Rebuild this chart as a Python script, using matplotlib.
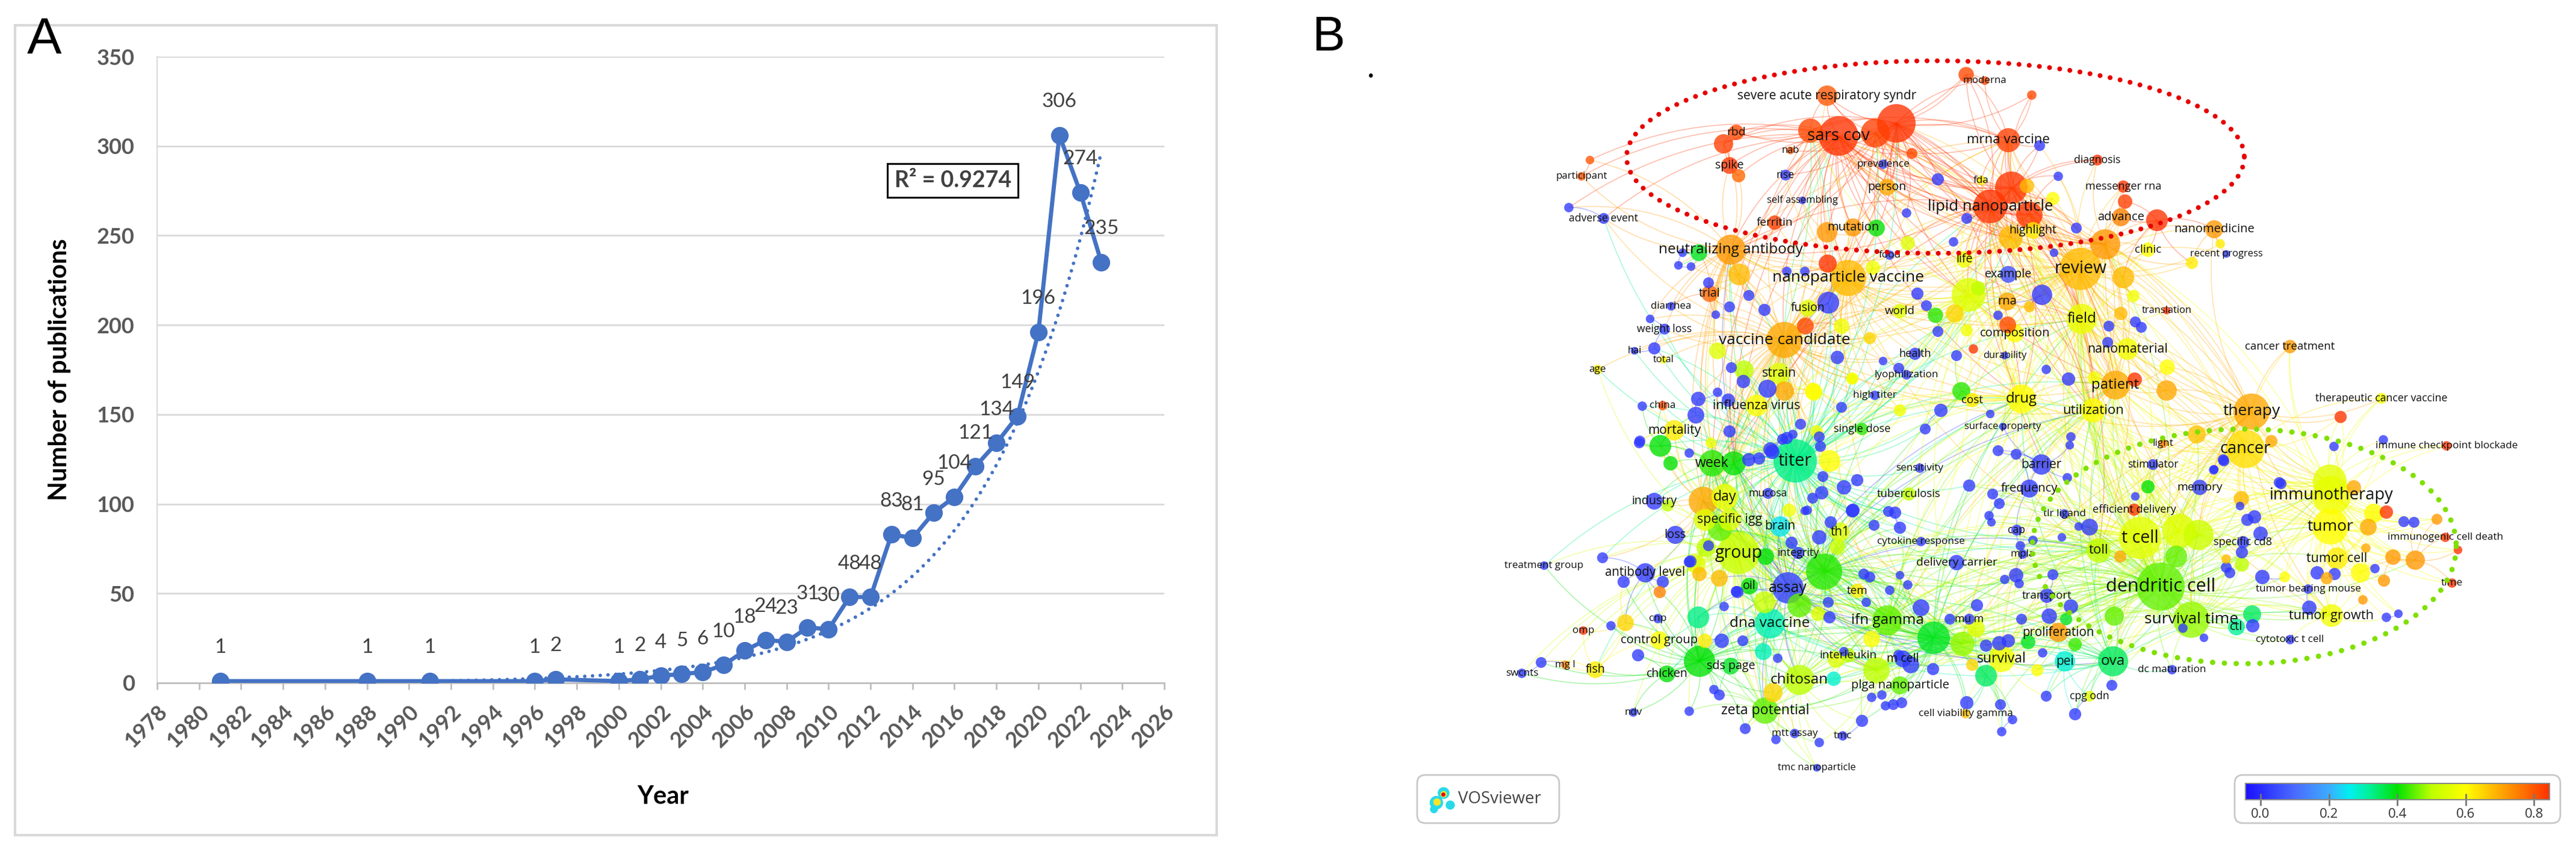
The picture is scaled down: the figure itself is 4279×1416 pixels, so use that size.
import numpy as np
import matplotlib
matplotlib.use("Agg")
import matplotlib.pyplot as plt
from matplotlib.colors import LinearSegmentedColormap, Normalize
from matplotlib.cm import ScalarMappable
from matplotlib.collections import LineCollection
from matplotlib.patches import Rectangle, FancyBboxPatch

# ---------------- panel A data ----------------
years = [1981, 1988, 1991, 1996, 1997, 2000, 2001, 2002, 2003, 2004, 2005, 2006,
         2007, 2008, 2009, 2010, 2011, 2012, 2013, 2014, 2015, 2016, 2017, 2018,
         2019, 2020, 2021, 2022, 2023]
pubs = [1, 1, 1, 1, 2, 1, 2, 4, 5, 6, 10, 18, 24, 23, 31, 30, 48, 48, 83, 81, 95,
        104, 121, 134, 149, 196, 306, 274, 235]
r2_text = "R\u00b2 = 0.9274"
year_ticks = list(range(1978, 2027, 2))
pub_ticks = list(range(0, 351, 50))

# ---------------- panel B data (VOSviewer overlay map) ----------------
kw_label = [
    "severe acute respiratory syndr", "sars cov", "moderna", "mrna vaccine", "rbd",
    "spike", "nab", "prevalence", "rise", "person",
    "self assembling", "diagnosis", "fda", "messenger rna", "lipid nanoparticle",
    "ferritin", "mutation", "highlight", "advance", "nanomedicine",
    "recent progress", "participant", "adverse event", "neutralizing antibody", "food",
    "life", "example", "review", "clinic", "nanoparticle vaccine",
    "trial", "diarrhea", "fusion", "world", "rna",
    "field", "translation", "weight loss", "composition", "vaccine candidate",
    "hai", "total", "age", "durability", "nanomaterial",
    "cancer treatment", "health", "strain", "lyophilization", "patient",
    "high titer", "drug", "cost", "china", "influenza virus",
    "utilization", "therapy", "therapeutic cancer vaccine", "surface property", "single dose",
    "mortality", "light", "immune checkpoint blockade", "cancer", "week",
    "titer", "sensitivity", "barrier", "stimulator", "memory",
    "frequency", "immunotherapy", "tuberculosis", "mucosa", "day",
    "industry", "efficient delivery", "tlr ligand", "specific igg", "brain",
    "th1", "cap", "loss", "t cell", "immunogenic cell death",
    "cytokine response", "specific cd8", "group", "integrity", "toll",
    "mpla", "tumor", "tumor cell", "delivery carrier", "treatment group",
    "antibody level", "oil", "assay", "tem", "dendritic cell",
    "time", "tumor bearing mouse", "transport", "cnp", "tumor growth",
    "mu m", "ifn gamma", "dna vaccine", "survival time", "ctl",
    "omp", "proliferation", "cytotoxic t cell", "control group", "interleukin",
    "survival", "m cell", "pei", "ova", "mg l",
    "sds page", "dc maturation", "fish", "swcnts", "chicken",
    "chitosan", "plga nanoparticle", "cpg odn", "zeta potential", "ndv",
    "cell viability gamma", "mtt assay", "tmc", "tmc nanoparticle",
]
kw_x = [
    3035, 3054, 3297, 3336, 2884,
    2873, 2974, 3128, 2966, 3135,
    2994, 3484, 3291, 3527, 3306,
    2948, 3078, 3377, 3523, 3678,
    3698, 2627, 2664, 2875, 3139,
    3263, 3336, 3456, 3568, 3070,
    2840, 2776, 3003, 3156, 3334,
    3458, 3599, 2765, 3347, 2964,
    2715, 2763, 2654, 3330, 3534,
    3804, 3181, 2955, 3167, 3514,
    3114, 3358, 3276, 2762, 2918,
    3477, 3740, 3956, 3327, 3093,
    2781, 3593, 4064, 3730, 2844,
    2982, 3189, 3391, 3576, 3654,
    3371, 3873, 3171, 2937, 2865,
    2748, 3545, 3429, 2873, 2957,
    3056, 3350, 2783, 3555, 4062,
    3191, 3726, 2888, 2987, 3486,
    3360, 3871, 3882, 3250, 2565,
    2733, 2906, 2970, 3085, 3589,
    4073, 3834, 3400, 2754, 3873,
    3271, 3135, 2940, 3640, 3715,
    2630, 3419, 3804, 2756, 3070,
    3325, 3161, 3430, 3510, 2600,
    2875, 3608, 2650, 2528, 2769,
    2989, 3156, 3471, 2932, 2713,
    3265, 2981, 3061, 3018,
]
kw_y = [
    159, 226, 134, 233, 220,
    275, 250, 273, 291, 311,
    333, 266, 300, 310, 343,
    370, 378, 383, 361, 381,
    422, 293, 363, 415, 424,
    431, 456, 447, 415, 462,
    488, 509, 512, 517, 501,
    530, 516, 547, 554, 565,
    583, 598, 614, 591, 580,
    576, 588, 621, 623, 640,
    657, 663, 665, 674, 674,
    682, 684, 662, 709, 713,
    715, 737, 741, 746, 770,
    766, 778, 772, 772, 810,
    812, 823, 821, 820, 826,
    833, 847, 854, 864, 875,
    884, 881, 889, 894, 893,
    900, 901, 919, 919, 915,
    921, 875, 928, 935, 940,
    952, 974, 977, 982, 975,
    969, 979, 990, 1028, 1023,
    1029, 1031, 1036, 1030, 1042,
    1048, 1051, 1063, 1064, 1089,
    1095, 1095, 1099, 1099, 1105,
    1107, 1113, 1113, 1119, 1120,
    1130, 1139, 1157, 1181, 1184,
    1186, 1219, 1223, 1276,
]
kw_occ = [
    28, 106, 5, 39, 16,
    19, 4, 6, 8, 19,
    4, 8, 6, 10, 77,
    14, 22, 19, 22, 22,
    4, 5, 8, 61, 6,
    19, 19, 120, 14, 88,
    19, 5, 19, 14, 22,
    61, 4, 8, 22, 88,
    4, 4, 6, 4, 32,
    12, 10, 32, 6, 56,
    6, 56, 14, 6, 32,
    39, 88, 8, 4, 10,
    28, 6, 6, 100, 47,
    127, 6, 28, 8, 16,
    22, 100, 12, 8, 47,
    19, 10, 6, 32, 28,
    25, 8, 22, 120, 6,
    6, 10, 120, 10, 39,
    6, 88, 32, 16, 5,
    25, 19, 66, 14, 156,
    6, 6, 14, 6, 35,
    8, 61, 61, 88, 19,
    5, 25, 6, 22, 14,
    47, 19, 28, 61, 5,
    19, 6, 19, 6, 19,
    61, 22, 8, 47, 5,
    6, 6, 6, 4,
]
kw_score = [
    0.80, 0.85, 0.82, 0.83, 0.82,
    0.84, 0.80, 0.03, 0.03, 0.70,
    0.03, 0.85, 0.62, 0.85, 0.85,
    0.83, 0.72, 0.62, 0.75, 0.72,
    0.03, 0.80, 0.02, 0.72, 0.03,
    0.58, 0.05, 0.68, 0.60, 0.68,
    0.78, 0.02, 0.55, 0.55, 0.70,
    0.57, 0.85, 0.02, 0.60, 0.70,
    0.02, 0.60, 0.62, 0.02, 0.58,
    0.72, 0.02, 0.55, 0.02, 0.70,
    0.02, 0.60, 0.62, 0.82, 0.60,
    0.60, 0.70, 0.58, 0.02, 0.42,
    0.62, 0.75, 0.85, 0.64, 0.42,
    0.33, 0.02, 0.02, 0.02, 0.02,
    0.02, 0.58, 0.50, 0.02, 0.57,
    0.02, 0.88, 0.02, 0.55, 0.25,
    0.55, 0.02, 0.02, 0.56, 0.85,
    0.02, 0.02, 0.52, 0.02, 0.50,
    0.02, 0.60, 0.62, 0.02, 0.02,
    0.02, 0.40, 0.03, 0.62, 0.45,
    0.85, 0.02, 0.02, 0.02, 0.58,
    0.02, 0.45, 0.30, 0.48, 0.32,
    0.85, 0.72, 0.02, 0.60, 0.50,
    0.58, 0.02, 0.28, 0.35, 0.75,
    0.38, 0.02, 0.62, 0.02, 0.40,
    0.50, 0.45, 0.55, 0.45, 0.02,
    0.68, 0.02, 0.02, 0.02,
]

# unlabeled low-score (blue) terms: x, y, occurrences
blue_terms = [
    (2606, 345, 6), (2795, 420, 5), (2788, 441, 5), (2809, 443, 5), (2741, 530, 5),
    (2748, 579, 10), (2728, 675, 6), (2821, 663, 14), (2817, 690, 19), (3037, 503, 32),
    (3392, 490, 28), (3959, 731, 6), (3877, 742, 6),
    (3219, 298, 10), (3419, 293, 6), (3388, 242, 8), (3167, 354, 6), (3267, 363, 8),
    (3449, 379, 8), (3245, 402, 6), (3412, 420, 5), (3185, 488, 10), (3200, 508, 8),
    (3219, 551, 8), (3319, 524, 6), (3399, 614, 6), (3436, 630, 12), (3224, 682, 12),
    (3306, 688, 5), (3052, 594, 12), (3250, 591, 8), (3501, 569, 8), (3547, 535, 8),
    (3557, 544, 8), (3503, 542, 8), (2931, 515, 10), (2968, 451, 6), (2998, 451, 6),
    (3059, 677, 8), (3128, 600, 5), (3154, 612, 8),
    (2850, 523, 5), (2873, 510, 8), (2905, 491, 8), (2838, 470, 8), (2896, 634, 12),
    (2876, 611, 8), (2853, 652, 6), (2871, 665, 12), (2936, 646, 22),
    (3022, 726, 8), (2991, 705, 8), (2978, 722, 6), (2961, 730, 8), (2941, 747, 14),
    (2922, 762, 10), (2905, 764, 12), (2873, 717, 10), (2723, 736, 8),
    (3319, 749, 8), (3349, 755, 8), (3440, 726, 6), (3438, 740, 5), (3434, 794, 6),
    (3271, 807, 10), (3310, 821, 8), (3321, 837, 8), (3304, 857, 6), (3308, 868, 5),
    (3453, 875, 5), (3425, 893, 5), (3356, 907, 6), (3377, 898, 6), (3349, 956, 14),
    (3330, 963, 6), (3354, 970, 6), (3410, 955, 8), (3404, 1024, 16), (3358, 1029, 8),
    (3440, 1008, 14), (3321, 1069, 14), (3299, 1073, 10), (3336, 1065, 12), (3393, 1085, 6),
    (3211, 1112, 10), (3174, 1105, 19), (3154, 1089, 8), (3109, 1159, 6), (3126, 1155, 6),
    (3145, 1171, 8), (3159, 1168, 8), (3132, 1173, 6), (3093, 1198, 10), (3267, 1168, 12),
    (3323, 1171, 8), (3343, 1196, 6), (3325, 1216, 6), (3399, 1157, 8), (3447, 1187, 10),
    (3508, 1139, 8), (3284, 1006, 10), (3239, 1029, 8), (3191, 1010, 19), (3169, 972, 6),
    (3156, 956, 5), (3139, 981, 6), (3100, 1001, 6), (3037, 1001, 8), (3039, 1026, 10),
    (3063, 1083, 6), (2953, 1094, 6), (3022, 1234, 6), (2950, 1229, 6),
    (3063, 810, 14), (3085, 798, 10), (3026, 819, 12), (3011, 828, 8), (3002, 848, 6),
    (3078, 848, 12), (3148, 852, 10), (3156, 877, 10), (3113, 873, 8), (3041, 868, 10),
    (3022, 893, 14), (2976, 902, 10), (3096, 954, 8), (3106, 959, 8), (3198, 713, 8),
    (2968, 728, 10), (2944, 751, 14), (3024, 742, 8), (3028, 792, 8), (3077, 849, 12),
    (3137, 850, 8), (2998, 849, 5),
    (2808, 933, 10), (2662, 927, 8), (2762, 967, 10), (2697, 967, 10), (2886, 984, 10),
    (2724, 733, 8), (2806, 753, 6), (2838, 907, 8), (2806, 934, 8), (2884, 983, 8),
    (2864, 1008, 6), (2860, 1065, 14), (2895, 1065, 8), (2847, 1146, 6), (2856, 1155, 8),
    (2721, 1089, 10), (2676, 1040, 6), (2560, 1101, 8), (2806, 1182, 6), (2899, 1211, 8),
    (3471, 876, 19),
    (3742, 1040, 12), (3993, 867, 8), (4010, 868, 8), (3755, 887, 14), (3693, 764, 8),
    (3678, 780, 5), (3789, 804, 8), (3721, 841, 5), (3745, 859, 12), (3724, 918, 10),
    (3698, 943, 8), (3704, 952, 8), (3758, 959, 14), (3849, 952, 12), (3878, 954, 10),
    (3836, 1010, 14), (3945, 945, 6), (3964, 1026, 6), (3984, 1020, 5), (3661, 1060, 5),
    (3626, 1044, 6), (3733, 864, 10), (3786, 802, 8), (3677, 781, 6), (3694, 766, 8),
    (3547, 825, 5),
]
blue_score = 0.02

# other unlabeled terms: x, y, occurrences, score
color_terms = [
    (3150, 205, 100, 0.85), (3007, 217, 39, 0.82), (3115, 221, 56, 0.83), (3266, 124, 16, 0.82),
    (3375, 158, 6, 0.82), (3341, 312, 71, 0.84), (3371, 357, 47, 0.84), (2863, 239, 25, 0.83),
    (2888, 292, 12, 0.78), (2641, 266, 5, 0.80), (3036, 438, 22, 0.85), (3583, 366, 32, 0.87),
    (3530, 335, 14, 0.83), (3340, 395, 39, 0.68), (3035, 386, 28, 0.72), (3117, 379, 19, 0.40),
    (3176, 255, 8, 0.82), (3367, 309, 14, 0.68), (3410, 330, 12, 0.60),
    (2822, 420, 19, 0.38), (2889, 456, 32, 0.68), (2897, 615, 25, 0.50), (3270, 490, 77, 0.55),
    (3497, 406, 61, 0.72), (3527, 461, 32, 0.68), (3335, 540, 19, 0.82), (3278, 580, 6, 0.85),
    (3600, 610, 16, 0.60), (3546, 631, 14, 0.90), (3599, 649, 28, 0.70), (3258, 650, 22, 0.42),
    (3649, 722, 22, 0.67), (3688, 405, 6, 0.62), (3641, 437, 10, 0.62), (3888, 693, 10, 0.85),
    (3169, 404, 14, 0.55), (3111, 445, 14, 0.58), (3059, 542, 16, 0.58), (3106, 562, 10, 0.65),
    (3076, 630, 8, 0.58), (3544, 492, 10, 0.58), (3371, 510, 8, 0.68), (3267, 549, 10, 0.58),
    (3247, 521, 22, 0.65), (3286, 479, 14, 0.50), (3215, 524, 16, 0.42), (3479, 628, 12, 0.58),
    (3013, 652, 19, 0.60), (3156, 682, 10, 0.58), (3523, 521, 12, 0.68), (2853, 583, 19, 0.55),
    (2964, 650, 25, 0.70), (3012, 650, 19, 0.60), (3077, 629, 10, 0.60), (2999, 542, 19, 0.82),
    (2842, 736, 8, 0.58), (2775, 770, 14, 0.40), (2758, 741, 32, 0.40), (2880, 770, 39, 0.40),
    (2829, 833, 56, 0.70), (2770, 840, 10, 0.50), (3039, 766, 32, 0.60), (3018, 717, 10, 0.58),
    (2972, 848, 12, 0.58), (3052, 909, 16, 0.52), (3109, 1062, 19, 0.60), (3282, 1044, 22, 0.55),
    (3260, 1070, 39, 0.48), (3369, 1067, 14, 0.38), (3447, 1071, 12, 0.43), (3512, 1024, 25, 0.45),
    (3432, 1029, 10, 0.38), (3568, 809, 12, 0.40), (3299, 1123, 32, 0.35), (3384, 1114, 10, 0.60),
    (3276, 1105, 10, 0.65), (3050, 1096, 19, 0.55), (3117, 1114, 47, 0.50), (2929, 1083, 19, 0.30),
    (3046, 1128, 14, 0.28), (2989, 1006, 39, 0.45), (2931, 1001, 32, 0.52), (3020, 1020, 14, 0.55),
    (2933, 925, 19, 0.40), (3030, 950, 88, 0.42), (3212, 1060, 71, 0.38), (2823, 1099, 66, 0.40),
    (2832, 864, 32, 0.55), (2857, 879, 39, 0.45), (2834, 910, 25, 0.50), (2817, 937, 25, 0.55),
    (2823, 954, 14, 0.68), (2856, 961, 19, 0.68), (2821, 1026, 32, 0.33), (2832, 1065, 14, 0.62),
    (2700, 1035, 19, 0.65), (2757, 984, 10, 0.75), (2945, 1151, 25, 0.65),
    (3620, 882, 77, 0.55), (3741, 1021, 22, 0.35), (3870, 800, 77, 0.56), (3723, 829, 16, 0.68),
    (3964, 851, 12, 0.85), (4048, 863, 8, 0.72), (3934, 876, 19, 0.70), (3975, 926, 16, 0.72),
    (4012, 931, 25, 0.72), (4083, 914, 5, 0.85), (3698, 929, 6, 0.68), (3724, 938, 14, 0.50),
    (3652, 889, 61, 0.52), (3865, 961, 10, 0.70), (3795, 959, 8, 0.60), (3921, 952, 25, 0.60),
    (3930, 911, 6, 0.70), (3960, 965, 10, 0.72), (3925, 997, 6, 0.72), (3943, 853, 25, 0.60),
    (3910, 810, 14, 0.70), (3773, 733, 10, 0.70), (3615, 925, 32, 0.45), (3522, 925, 10, 0.70),
]

# dotted cluster outlines: centre x, centre y, half width, half height
red_cluster = (3215, 261, 513, 160)
green_cluster = (3728, 908, 352, 195)

score_min, score_max = -0.044, 0.845
cbar_ticks = [0.0, 0.2, 0.4, 0.6, 0.8]
score_stops = [(-0.044, "#1a10ff"), (0.1, "#4a6cff"), (0.2, "#3cacff"), (0.26, "#00f0f0"),
               (0.32, "#00f096"), (0.4, "#00e100"), (0.5, "#beff00"), (0.6, "#ffff00"),
               (0.7, "#ffaa00"), (0.845, "#ff3200")]

# ---------------- figure ----------------
W, H, DPI = 4279, 1416, 100


def fx(px):
    return px / W


def fy(py):
    return 1 - py / H


plt.rcParams["font.family"] = ["Lato", "DejaVu Sans"]
fig = plt.figure(figsize=(W / DPI, H / DPI), dpi=DPI)

# ---- panel A ----
blue = "#4472C4"
fig.patches.append(Rectangle((fx(25), fy(1388)), fx(2021) - fx(25), fy(42) - fy(1388),
                             transform=fig.transFigure, fill=False,
                             edgecolor="#d9d9d9", lw=3))

axA = fig.add_axes([fx(261), fy(1135), fx(1934) - fx(261), fy(94) - fy(1135)])
b, a = np.polyfit(years, np.log(pubs), 1)
trend_x = np.linspace(years[0], years[-1], 300)
axA.plot(trend_x, np.exp(a + b * trend_x), color=blue, lw=4.2,
         linestyle=(0, (0.01, 2.2)), dash_capstyle="round", zorder=2)
axA.plot(years, pubs, color=blue, lw=5, marker="o", ms=20, zorder=3)
for yr, n in zip(years, pubs):
    axA.annotate(str(n), (yr, n), xytext=(0, 40), textcoords="offset points",
                 ha="center", va="center", fontsize=24, color="#404040", zorder=4)

axA.set_xlim(1978, 2026)
axA.set_ylim(0, 350)
axA.set_xticks(year_ticks)
axA.set_yticks(pub_ticks)
axA.grid(axis="y", color="#d9d9d9", lw=2)
axA.set_axisbelow(True)
for s in ["top", "right"]:
    axA.spines[s].set_visible(False)
axA.spines["left"].set_color("#d9d9d9")
axA.spines["left"].set_linewidth(1.5)
axA.spines["bottom"].set_color("#bfbfbf")
axA.spines["bottom"].set_linewidth(2)
axA.tick_params(axis="y", length=0, pad=27, labelsize=26, labelcolor="#595959")
axA.tick_params(axis="x", length=8, width=2, color="#bfbfbf", pad=14,
                labelsize=26, labelcolor="#595959")
for t in axA.get_yticklabels():
    t.set_fontweight("bold")
for t in axA.get_xticklabels():
    t.set_fontweight("bold")
    t.set_rotation(45)
    t.set_ha("right")
    t.set_va("top")
    t.set_rotation_mode("anchor")
axA.set_ylabel("Number of publications", fontsize=30, fontweight="bold", color="black")
axA.yaxis.set_label_coords(-0.0855, 0.5)
axA.set_xlabel("Year", fontsize=30, fontweight="bold", color="black")
axA.xaxis.set_label_coords(0.502, -0.163)
axA.text(0.79, 0.802, r2_text, transform=axA.transAxes, ha="center", va="center",
         fontsize=27, fontweight="bold", color="#404040",
         bbox=dict(boxstyle="square,pad=0.3", fc="white", ec="black", lw=2.2))

fig.text(fx(45), fy(89), "A", fontsize=62, family=["Liberation Sans", "DejaVu Sans"],
         ha="left", va="baseline")
fig.text(fx(2179), fy(84), "B", fontsize=59, family=["Liberation Sans", "DejaVu Sans"],
         ha="left", va="baseline")
fig.text(fx(2276), fy(126), "\u2022", fontsize=13, ha="center", va="center")

# ---- panel B ----
cmap = LinearSegmentedColormap.from_list(
    "vos", [((v - score_min) / (score_max - score_min), c) for v, c in score_stops])
norm = Normalize(score_min, score_max)

axB = fig.add_axes([fx(2150), 0, 1 - fx(2150), 1])
axB.set_xlim(2150, W)
axB.set_ylim(H, 0)
axB.axis("off")

node_x = np.array(kw_x + [t[0] for t in blue_terms] + [t[0] for t in color_terms], float)
node_y = np.array(kw_y + [t[1] for t in blue_terms] + [t[1] for t in color_terms], float)
node_occ = np.array(kw_occ + [t[2] for t in blue_terms] + [t[2] for t in color_terms], float)
node_score = np.array(kw_score + [blue_score] * len(blue_terms) + [t[3] for t in color_terms])
node_r = 3.2 * np.sqrt(node_occ)
node_rgb = cmap(norm(node_score))

# links: each term ties to the heavier terms nearby (weight / distance),
# and the big terms also tie to each other across the map
n = len(node_x)
dist = np.hypot(node_x[:, None] - node_x[None, :], node_y[:, None] - node_y[None, :])
np.fill_diagonal(dist, np.inf)
pull = node_occ[None, :] / np.maximum(dist, 20) ** 1.3
links = set()
for i in range(n):
    k = 3 + int(node_occ[i] // 8)
    for j in np.argsort(-pull[i])[:k]:
        links.add((min(i, j), max(i, j)))
big = np.where(node_occ >= 35)[0]
for i in big:
    for j in big:
        if i < j and dist[i, j] < 620:
            links.add((i, j))

tt = np.linspace(0, 1, 20)[:, None]
segs, seg_cols = [], []
for i, j in sorted(links):
    p0 = np.array([node_x[i], node_y[i]])
    p2 = np.array([node_x[j], node_y[j]])
    dv = p2 - p0
    p1 = (p0 + p2) / 2 + 0.18 * np.array([-dv[1], dv[0]])
    segs.append((1 - tt) ** 2 * p0 + 2 * (1 - tt) * tt * p1 + tt ** 2 * p2)
    hub = i if node_occ[i] >= node_occ[j] else j
    c = list(node_rgb[hub])
    c[3] = 0.32
    seg_cols.append(c)
axB.add_collection(LineCollection(segs, colors=seg_cols, linewidths=1.2, zorder=1))

order = np.argsort(-node_occ, kind="stable")
axB.scatter(node_x[order], node_y[order], s=(2 * node_r[order] * 0.72) ** 2,
            c=node_rgb[order], alpha=0.78, linewidths=0, zorder=2)

for lab, x, y, occ in zip(kw_label, kw_x, kw_y, kw_occ):
    fs = 10 + 0.3 * 3.2 * np.sqrt(occ)
    axB.text(x, y, lab, fontsize=fs, family=["Open Sans", "DejaVu Sans"],
             color="#111111", ha="center", va="center", zorder=5)

th = np.linspace(0, 2 * np.pi, 600)
for (cx, cy, ea, eb), col, lw, gap in [(red_cluster, "#e60000", 5.8, 2.1),
                                      (green_cluster, "#80e000", 6.4, 2.2)]:
    axB.plot(cx + ea * np.cos(th), cy + eb * np.sin(th), color=col, lw=lw,
             linestyle=(0, (0.01, gap)), dash_capstyle="round", zorder=6)

# VOSviewer badge
axB.add_patch(FancyBboxPatch((2354, 1288), 236, 80, boxstyle="round,pad=0,rounding_size=14",
                             fc="white", ec="#c8c8c8", lw=2, zorder=7))
axB.scatter([2386, 2398, 2409, 2382], [1334, 1318, 1338, 1345], s=[260, 200, 120, 90],
            c="#2ad9e8", linewidths=0, zorder=8)
axB.scatter([2387, 2398], [1333, 1320], s=[80, 60], c="#f5e52a", linewidths=0, zorder=9)
axB.scatter([2397], [1320], s=[25], c="#d91010", linewidths=0, zorder=10)
axB.text(2422, 1328, "VOSviewer", fontsize=20, family=["Open Sans", "DejaVu Sans"],
         color="#444444", ha="left", va="center", zorder=8)

# colour bar
axB.add_patch(FancyBboxPatch((3712, 1288), 541, 80, boxstyle="round,pad=0,rounding_size=14",
                             fc="white", ec="#c8c8c8", lw=2, zorder=7))
cax = fig.add_axes([fx(3730), fy(1329), fx(4235) - fx(3730), fy(1302) - fy(1329)])
cb = fig.colorbar(ScalarMappable(norm=norm, cmap=cmap), cax=cax, orientation="horizontal",
                  ticks=cbar_ticks)
cb.set_ticklabels([f"{v:.1f}" for v in cbar_ticks])
cb.outline.set_edgecolor("#888888")
cb.outline.set_linewidth(1.5)
cax.tick_params(direction="inout", length=14, width=2, color="#777777",
                labelcolor="#333333", labelsize=16, pad=3)
for t in cax.get_xticklabels():
    t.set_fontfamily(["Open Sans", "DejaVu Sans"])

fig.savefig("out.png", dpi=DPI)
